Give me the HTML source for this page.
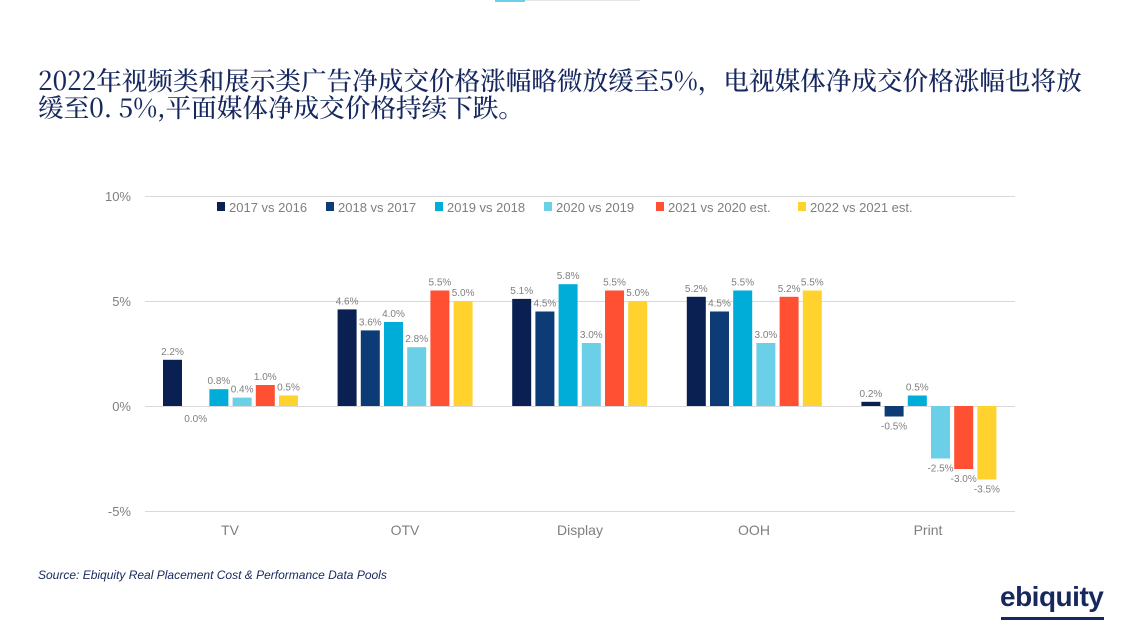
<!DOCTYPE html>
<html><head><meta charset="utf-8"><style>
body{margin:0;width:1135px;height:637px;background:#fff;position:relative;overflow:hidden;font-family:"Liberation Sans",sans-serif}
.t{position:absolute;left:38px;top:67px;font-family:"Noto Serif CJK SC","Liberation Serif",serif;font-size:25.6px;line-height:27px;color:#16285e;white-space:nowrap;font-weight:500}
</style></head><body>
<div style="position:absolute;left:495px;top:0;width:30px;height:2px;background:#6dd0ea"></div>
<div style="position:absolute;left:525px;top:0;width:115px;height:1px;background:#e6e6e6"></div>
<div class="t">2022年视频类和展示类广告净成交价格涨幅略微放缓至5%，电视媒体净成交价格涨幅也将放<br>缓至0. 5%,平面媒体净成交价格持续下跌。</div>
<svg width="1135" height="637" style="position:absolute;left:0;top:0" font-family="Liberation Sans, sans-serif">
<g stroke="#d9d9d9" stroke-width="1">
<line x1="145" y1="196.5" x2="1015" y2="196.5"/><line x1="145" y1="301.5" x2="1015" y2="301.5"/>
<line x1="145" y1="406.5" x2="1015" y2="406.5"/><line x1="145" y1="511.5" x2="1015" y2="511.5"/>
</g>
<g fill="#7f7f7f" font-size="13" text-anchor="end">
<text x="131" y="201">10%</text><text x="131" y="306">5%</text><text x="131" y="411">0%</text><text x="131" y="516">-5%</text>
</g>
<g fill="#7f7f7f" font-size="14" text-anchor="middle">
<text x="230" y="535">TV</text><text x="405" y="535">OTV</text><text x="580" y="535">Display</text><text x="754" y="535">OOH</text><text x="928" y="535">Print</text>
</g>
<g font-size="13" fill="#7f7f7f">
<rect x="217" y="202" width="8" height="9" fill="#0a1f52"/><text x="229" y="212">2017 vs 2016</text>
<rect x="326" y="202" width="8" height="9" fill="#0d3b75"/><text x="338" y="212">2018 vs 2017</text>
<rect x="435" y="202" width="8" height="9" fill="#00acd8"/><text x="447" y="212">2019 vs 2018</text>
<rect x="544" y="202" width="8" height="9" fill="#6bcfe8"/><text x="556" y="212">2020 vs 2019</text>
<rect x="656" y="202" width="8" height="9" fill="#ff5033"/><text x="668" y="212">2021 vs 2020 est.</text>
<rect x="798" y="202" width="8" height="9" fill="#ffd22e"/><text x="810" y="212">2022 vs 2021 est.</text>
</g>
<g id="bars"></g>
</svg>
<div style="position:absolute;left:38px;top:568px;font-size:12px;font-style:italic;color:#16285e">Source: Ebiquity Real Placement Cost &amp; Performance Data Pools</div>
<div style="position:absolute;left:1000px;top:581px;font-size:28px;font-weight:bold;color:#16285e;letter-spacing:-0.5px">ebiquity</div>
<div style="position:absolute;left:1001px;top:617px;width:103px;height:3px;background:#16285e"></div>
<script>
var d=[[2.2,0,0.8,0.4,1.0,0.5],[4.6,3.6,4.0,2.8,5.5,5.0],[5.1,4.5,5.8,3.0,5.5,5.0],[5.2,4.5,5.5,3.0,5.2,5.5],[0.2,-0.5,0.5,-2.5,-3.0,-3.5]];
var c=["#0a1f52","#0d3b75","#00acd8","#6bcfe8","#ff5033","#ffd22e"];
var s="",z=406;
d.forEach(function(r,i){r.forEach(function(v,j){var x=163+i*174.6+j*23.2,h=Math.abs(v)*21,y=v>=0?z-h:z;
if(v!=0)s+='<rect x="'+x.toFixed(1)+'" y="'+y.toFixed(1)+'" width="19" height="'+h.toFixed(1)+'" fill="'+c[j]+'"/>';
var ty=v>0?y-5:z+h+13; if(v==0)ty=z+16;
s+='<text x="'+(x+9.5).toFixed(1)+'" y="'+ty.toFixed(1)+'" font-size="10" fill="#7f7f7f" text-anchor="middle">'+v.toFixed(1)+'%</text>';});});
document.getElementById("bars").innerHTML=s;
</script>
</body></html>
